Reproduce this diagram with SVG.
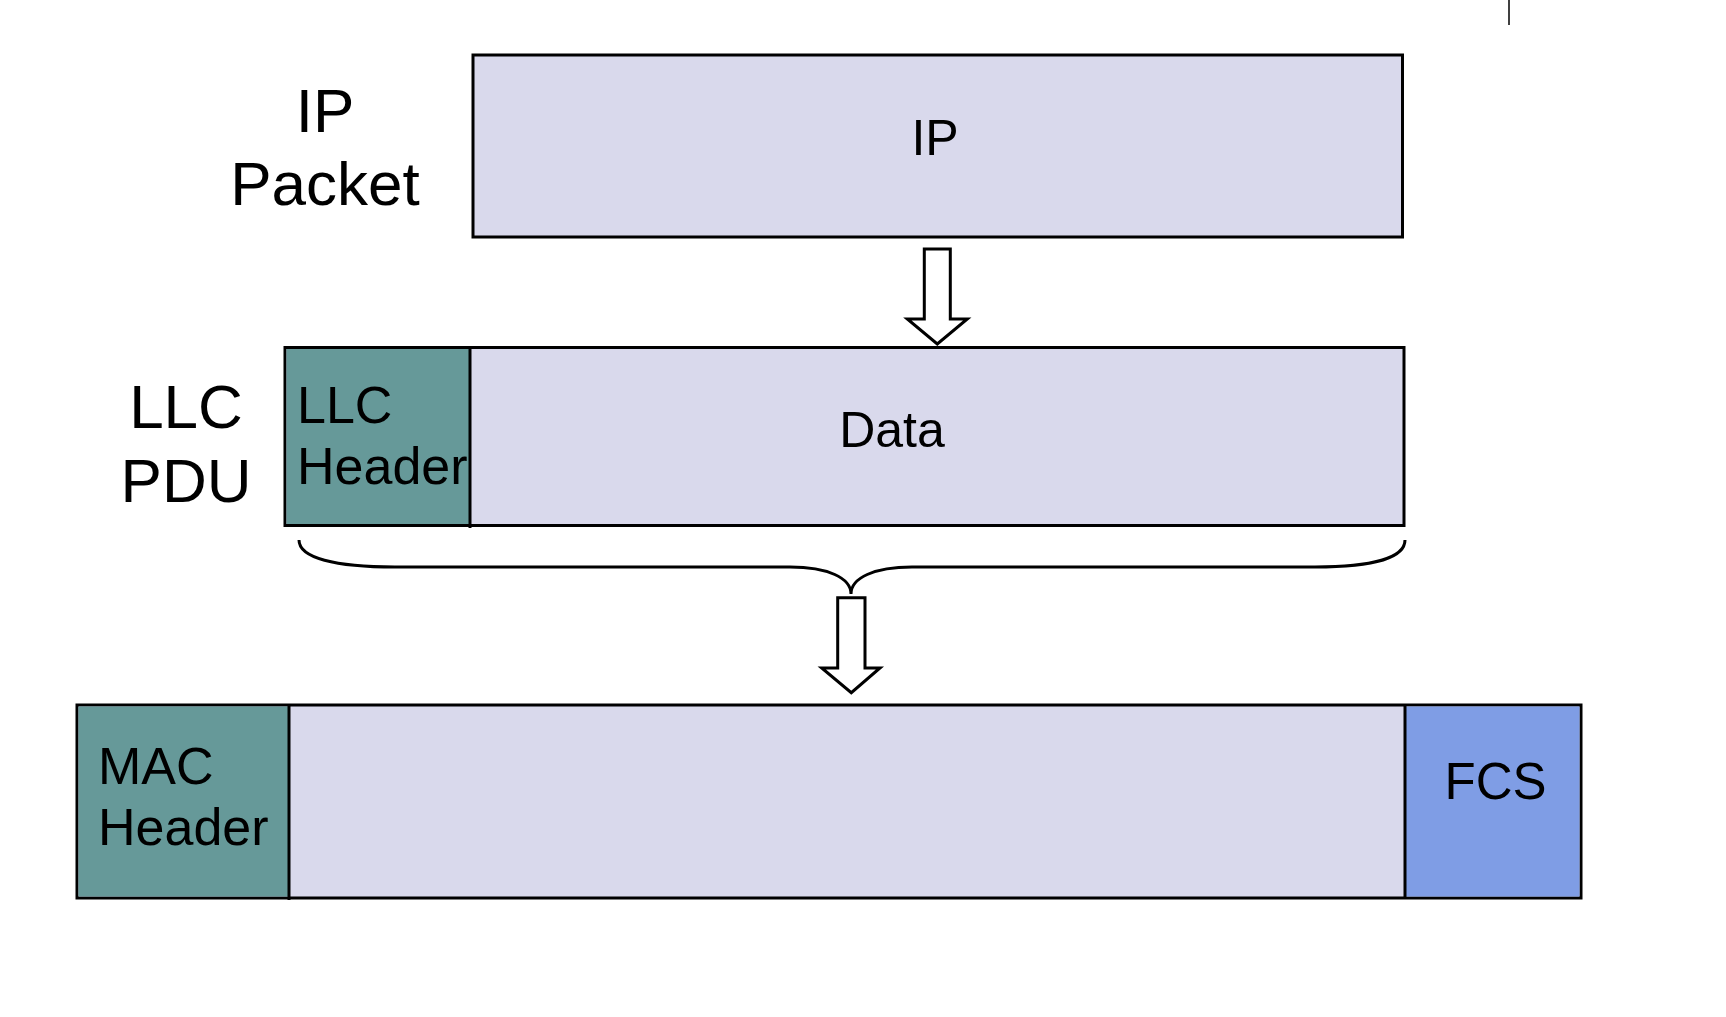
<svg xmlns="http://www.w3.org/2000/svg" width="1726" height="1017" viewBox="0 0 1726 1017">
<style>
text{font-family:"Liberation Sans",Arial,sans-serif;fill:#000}
.box{stroke:#000;stroke-width:3}
.pale{fill:#D9D9EC}
.teal{fill:#669999}
.fcs{fill:#7F9DE5}
.div{stroke:#000;stroke-width:3}
.lbl{font-size:62px;text-anchor:middle}
.in{font-size:52px}
.blk{fill:#fff;stroke:#000;stroke-width:3;stroke-linejoin:miter}
</style>
<rect width="1726" height="1017" fill="#fff"/>
<line x1="1509" y1="0" x2="1509" y2="25" stroke="#000" stroke-width="1.5"/>

<g id="ip-label">
<text class="lbl" x="325" y="132">IP</text>
<text class="lbl" x="325" y="205">Packet</text>
</g>
<g id="ip-packet">
<rect class="box pale" x="473" y="55" width="929.5" height="182"/>
<text x="935" y="155" font-size="50" text-anchor="middle">IP</text>
</g>

<g id="llc-label">
<text class="lbl" x="186" y="428">LLC</text>
<text class="lbl" x="186" y="502">PDU</text>
</g>
<g id="llc-pdu">
<rect class="box pale" x="285" y="347.5" width="1119" height="178"/>
<rect class="teal" x="286.5" y="349" width="183.5" height="175"/>
<line class="div" x1="470" y1="349" x2="470" y2="528"/>
<text class="in" x="297" y="423">LLC</text>
<text class="in" x="297" y="484">Header</text>
<text x="892" y="447" font-size="50" text-anchor="middle">Data</text>
</g>

<g id="mac-frame">
<rect class="box pale" x="77" y="705" width="1504" height="193"/>
<rect class="teal" x="78.5" y="706.5" width="210.5" height="190"/>
<rect class="fcs" x="1405" y="706.5" width="174.5" height="190"/>
<line class="div" x1="289" y1="706" x2="289" y2="900"/>
<line class="div" x1="1405" y1="706" x2="1405" y2="897"/>
<text class="in" x="98" y="784">MAC</text>
<text class="in" x="98" y="845">Header</text>
<text x="1495.5" y="799" font-size="51" text-anchor="middle">FCS</text>
</g>

<g id="connectors">
<polygon class="blk" points="924.3,249 950.3,249 950.3,319 967.3,319 937.3,344 907.3,319 924.3,319"/>
<path d="M299,540 C299,558 335,567 395,567 L790,567 C828,567 851,578 851,594 C851,578 874,567 912,567 L1315,567 C1372,567 1405,558 1405,540" fill="none" stroke="#000" stroke-width="3"/>
<polygon class="blk" points="837.7,597.7 865,597.7 865,668 880,668 851.3,692.7 821.7,668 837.7,668"/>
</g>
</svg>
